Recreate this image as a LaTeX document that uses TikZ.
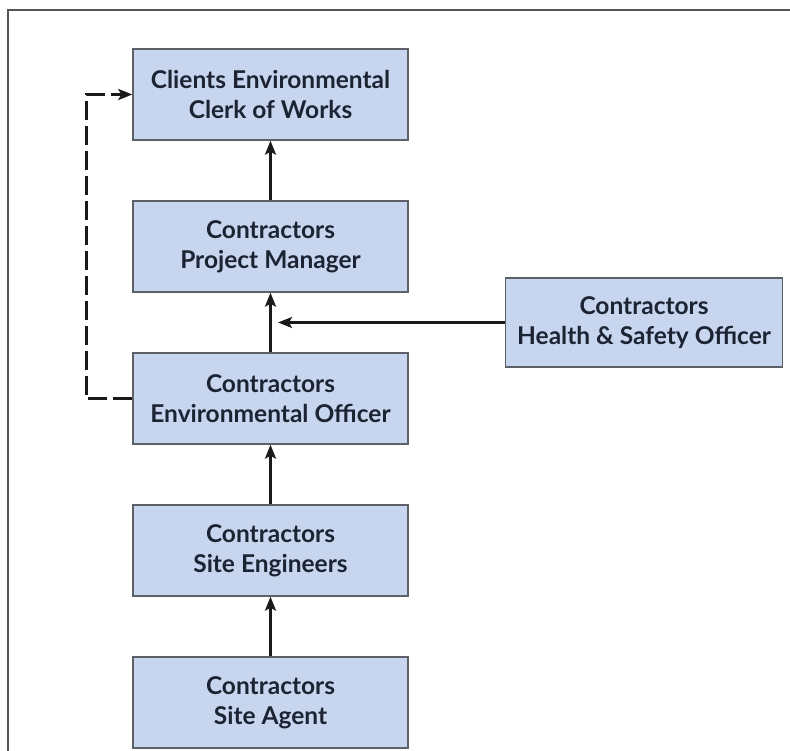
\documentclass[tikz,border=0pt]{standalone}
\usepackage{fontspec}
\setmainfont{Lato}
\usetikzlibrary{arrows.meta}
\definecolor{boxfill}{HTML}{C7D5EE}
\definecolor{boxline}{HTML}{5E6068}
\definecolor{textnavy}{HTML}{1C2333}
\definecolor{framegray}{HTML}{555555}
\begin{document}
\begin{tikzpicture}[x=1pt,y=-1pt,
  rolebox/.style={draw=boxline, line width=1.4pt, fill=boxfill,
    minimum width=275pt, minimum height=91pt, inner sep=0pt,
    align=center, text=textnavy,
    font=\fontsize{24.5}{30}\selectfont\bfseries},
  link/.style={draw=black!90, line width=2.4pt,
    -{Stealth[length=14pt,width=11pt,inset=3pt]}},
  dashlink/.style={link, line width=3pt, dash pattern=on 19pt off 6pt}]
  % page extent and frame
  \useasboundingbox (0,0) rectangle (790,751);
  \draw[framegray, line width=1.6pt] (8,751) -- (8,10) -- (790,10);

  % role boxes
  \node[rolebox] (clerk) at (270.5,94.5) {Clients Environmental\\Clerk of Works};
  \node[rolebox] (pm)    at (270.5,246.5) {Contractors\\Project Manager};
  \node[rolebox] (eo)    at (270.5,398.5) {Contractors\\Environmental Officer};
  \node[rolebox] (se)    at (270.5,550.5) {Contractors\\Site Engineers};
  \node[rolebox] (sa)    at (270.5,702.5) {Contractors\\Site Agent};
  \node[rolebox, minimum width=277pt, minimum height=89pt] (hs) at (644,322.5) {Contractors\\Health \& Safety Officer};

  % reporting lines
  \draw[link] (pm.north) -- (clerk.south);
  \draw[link] (eo.north) -- (pm.south);
  \draw[link] (se.north) -- (eo.south);
  \draw[link] (sa.north) -- (se.south);
  \coordinate (hsin) at (278,322.5);
  \draw[link] (hs.west) -- (hsin);
  \coordinate (loopl) at (86,398.5);
  \coordinate (loopt) at (86,94.5);
  \draw[dashlink] (eo.west) -- (loopl) -- (loopt) -- (clerk.west);
\end{tikzpicture}
\end{document}
